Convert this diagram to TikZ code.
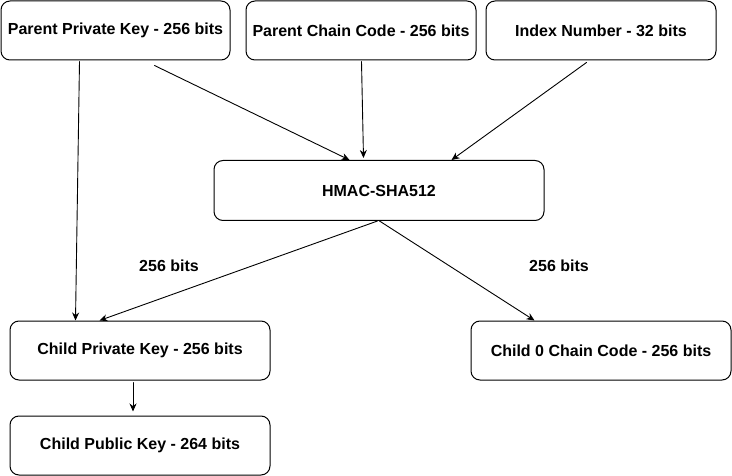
\documentclass[tikz,border=0pt]{standalone}
\usepackage{fontspec}
\setmainfont{Liberation Sans}
\usetikzlibrary{arrows.meta}

\tikzset{
  keybox/.style={draw, line width=1pt, rounded corners=9pt, minimum height=59pt, inner sep=0pt, font=\fontsize{16}{19}\selectfont\bfseries},
  flow/.style={-{Stealth[length=8pt,width=7pt]}, line width=0.9pt},
  bitlabel/.style={font=\fontsize{16}{19}\selectfont\bfseries}
}

\begin{document}
\begin{tikzpicture}[line cap=round,line join=round,x=1pt,y=-1pt]
			\useasboundingbox (0,0) rectangle (732,476);
			%% top row
			\node[keybox, minimum width=229pt] (ppk) at (115.5,30.5) {Parent Private Key - 256 bits};
			\node[keybox, minimum width=230pt] (pcc) at (361,30.5) {Parent Chain Code - 256 bits};
			\node[keybox, minimum width=230pt] (idx) at (601,30.5) {Index Number - 32 bits};
			\node[keybox, minimum width=330pt, minimum height=60pt] (hmac) at (379,190.5) {HMAC-SHA512};
			%% children
			\node[keybox, minimum width=260pt] (cpk) at (140,350.5) {Child Private Key - 256 bits};
			\node[keybox, minimum width=260pt] (cc) at (601,350.5) {Child 0 Chain Code - 256 bits};
			\node[keybox, minimum width=260pt] (cpub) at (140,445.5) {Child Public Key - 264 bits};
			\draw [flow] ([shift={(79,1)}]ppk.south west) -- ([shift={(66,0)}]cpk.north west);
			\draw [flow] ([shift={(154,5)}]ppk.south west) -- ([shift={(136,0)}]hmac.north west);
			\draw [flow] ([shift={(116,1)}]pcc.south west) -- ([shift={(150,-2)}]hmac.north west);
			\draw [flow] ([shift={(101,2)}]idx.south west) -- ([shift={(238,0)}]hmac.north west);
			\draw [flow] ([shift={(164,0)}]hmac.south west) -- ([shift={(90,0)}]cpk.north west);
			\draw [flow] ([shift={(166,0)}]hmac.south west) -- ([shift={(64,0)}]cc.north west);
			\draw [flow] ([shift={(-7,2)}]cpk.south) -- ([shift={(-7,-4)}]cpub.north);
			\node[bitlabel] (lbitsl) at (169,266) {256 bits};
			\node[bitlabel] (lbitsr) at (559,266) {256 bits};
		\end{tikzpicture}
\end{document}
